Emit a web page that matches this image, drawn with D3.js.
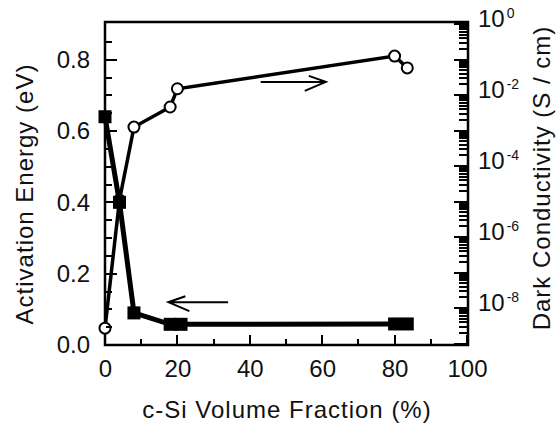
<!DOCTYPE html>
<html>
<head>
<meta charset="utf-8">
<script src="https://cdn.jsdelivr.net/npm/d3@7"></script>
<style>
  body { margin: 0; background: #fff; }
  text { font-family: "Liberation Sans", Arial, sans-serif; fill: #111; }
</style>
</head>
<body>
<div class="chart"></div>
<script>
// data
var energyX = [0, 4, 8, 18, 21, 80, 83.5];
var energyY = [0.64, 0.40, 0.09, 0.058, 0.058, 0.059, 0.059];

var condX = [0, 4, 8, 18, 20, 80, 83.5];
var condY = [2.7e-9, 1.1e-5, 1.25e-3, 4.6e-3, 1.5e-2, 1.25e-1, 5.8e-2];

var xTicks = [0, 20, 40, 60, 80, 100];
var xMinorTicks = [10, 30, 50, 70, 90];
var eTicks = [0, 0.2, 0.4, 0.6, 0.8];
var eMinorTicks = [0.05, 0.1, 0.15, 0.25, 0.3, 0.35, 0.45, 0.5, 0.55, 0.65, 0.7, 0.75, 0.85];
var cLabelExp = [0, -2, -4, -6, -8];

// arrows: [x1, x2, y] in data units, head at x2
var arrowCond = [43, 61, 0.0234];
var arrowEnergy = [34, 17.5, 0.12];

var svgWidth = 556;
var svgHeight = 425;

var box = { left: 105, right: 468, top: 22, bottom: 345 };

var svg = d3.select(".chart")
    .append("svg")
    .attr("width", svgWidth)
    .attr("height", svgHeight);

// scales
var xScale = d3.scaleLinear().domain([0, 100]).range([105, 467]);
var yEnergy = d3.scaleLinear().domain([0, 0.9]).range([345, 24]);
var yCond = d3.scaleLog().domain([1e-9, 1]).range([343.5, 24]);

// frame
svg.append("path")
    .attr("fill", "none")
    .attr("stroke", "#000")
    .attr("stroke-width", 2.5)
    .attr("d", `M${box.left},${box.top}H${box.right}V${box.bottom}H${box.left}Z`);

// tick labels through d3 axes
function labelAxis(axis, transform) {
    var g = svg.append("g").attr("transform", transform).call(axis);
    g.select(".domain").remove();
    g.selectAll(".tick line").remove();
    g.selectAll(".tick text")
        .attr("font-size", 24)
        .attr("fill", "#111")
        .style("font-family", "'Liberation Sans', Arial, sans-serif");
}

labelAxis(d3.axisBottom(xScale).tickValues(xTicks).tickSizeInner(0).tickSizeOuter(0).tickPadding(15),
    `translate(0, ${box.bottom})`);
labelAxis(d3.axisLeft(yEnergy).tickValues(eTicks).tickSizeInner(0).tickSizeOuter(0).tickPadding(15)
    .tickFormat(d3.format(".1f")), `translate(${box.left}, 0)`);

// right tick labels 10^n
var rl = svg.append("g").selectAll("text")
    .data(cLabelExp)
    .enter()
    .append("text")
    .attr("x", box.right + 10)
    .attr("y", d => yCond(Math.pow(10, d)) + 3)
    .attr("font-size", 24);
rl.append("tspan").text("10");
rl.append("tspan")
    .attr("dx", 2)
    .attr("dy", -9)
    .attr("font-size", 14)
    .text(d => d === 0 ? "0" : "-" + (-d));

var condData = condX.map((d, i) => [d, condY[i]]);
var energyData = energyX.map((d, i) => [d, energyY[i]]);

// conductivity series (open circles)
svg.append("path")
    .datum(condData)
    .attr("fill", "none")
    .attr("stroke", "#000")
    .attr("stroke-width", 3.5)
    .attr("d", d3.line().x(d => xScale(d[0])).y(d => yCond(d[1])));

svg.append("g").selectAll("circle")
    .data(condData)
    .enter()
    .append("circle")
    .attr("cx", d => xScale(d[0]))
    .attr("cy", d => yCond(d[1]))
    .attr("r", 5.5)
    .attr("fill", "#fff")
    .attr("stroke", "#000")
    .attr("stroke-width", 2);

// activation energy series (filled squares)
svg.append("path")
    .datum(energyData)
    .attr("fill", "none")
    .attr("stroke", "#000")
    .attr("stroke-width", 5)
    .attr("d", d3.line().x(d => xScale(d[0])).y(d => yEnergy(d[1])));

svg.append("g").selectAll("rect")
    .data(energyData)
    .enter()
    .append("rect")
    .attr("x", d => xScale(d[0]) - 6.5)
    .attr("y", d => yEnergy(d[1]) - 6.5)
    .attr("width", 13)
    .attr("height", 13)
    .attr("fill", "#000");

// arrows
function drawArrow(x1, x2, y) {
    var dir = x2 > x1 ? 1 : -1;
    svg.append("path")
        .attr("fill", "none")
        .attr("stroke", "#000")
        .attr("stroke-width", 2)
        .attr("d", `M${x1},${y}H${x2}M${x2 - dir * 17},${y - 6}L${x2},${y}L${x2 - dir * 21},${y + 9}`);
}
drawArrow(xScale(arrowCond[0]), xScale(arrowCond[1]), yCond(arrowCond[2]));
drawArrow(xScale(arrowEnergy[0]), xScale(arrowEnergy[1]), yEnergy(arrowEnergy[2]));

// inward tick marks, one comb-shaped stroked path per set, placed by the scales
function tickMarks(values, pos, horizontal, base, len, color) {
    var d = values.map(function(v) {
        var p = Math.round(pos(v));
        return horizontal ? `M${p},${base}L${p},${base + len}` : `M${base},${p}L${base + len},${p}`;
    }).join(" ");
    svg.append("path")
        .attr("d", d)
        .style("fill", "none")
        .style("stroke", color || "#000")
        .style("stroke-width", "2px")
        .style("stroke-linecap", "butt");
}

tickMarks(xTicks, xScale, true, box.bottom - 1, -9);
tickMarks(xMinorTicks, xScale, true, box.bottom - 1, -5);
tickMarks(eTicks, yEnergy, false, box.left + 1, 11);
tickMarks(eMinorTicks, yEnergy, false, box.left + 1, 6);

var decades = d3.range(-9, 1).map(e => Math.pow(10, e));
var minorLog = [];
d3.range(-9, 0).forEach(function(e) {
    for (var m = 2; m <= 9; m++) minorLog.push(m * Math.pow(10, e));
});
tickMarks(decades, yCond, false, box.right - 1, -13);
tickMarks(minorLog, yCond, false, box.right - 1, -8);

// axis titles
svg.append("text")
    .attr("x", 287)
    .attr("y", 418)
    .attr("text-anchor", "middle")
    .attr("font-size", 24)
    .attr("letter-spacing", 1)
    .text("c-Si Volume Fraction (%)");

svg.append("text")
    .attr("transform", "translate(33, 194) rotate(-90)")
    .attr("text-anchor", "middle")
    .attr("font-size", 24)
    .attr("letter-spacing", 1)
    .text("Activation Energy (eV)");

svg.append("text")
    .attr("transform", "translate(550, 178) rotate(-90)")
    .attr("text-anchor", "middle")
    .attr("font-size", 24)
    .attr("letter-spacing", 1)
    .text("Dark Conductivity (S / cm)");
</script>
</body>
</html>
